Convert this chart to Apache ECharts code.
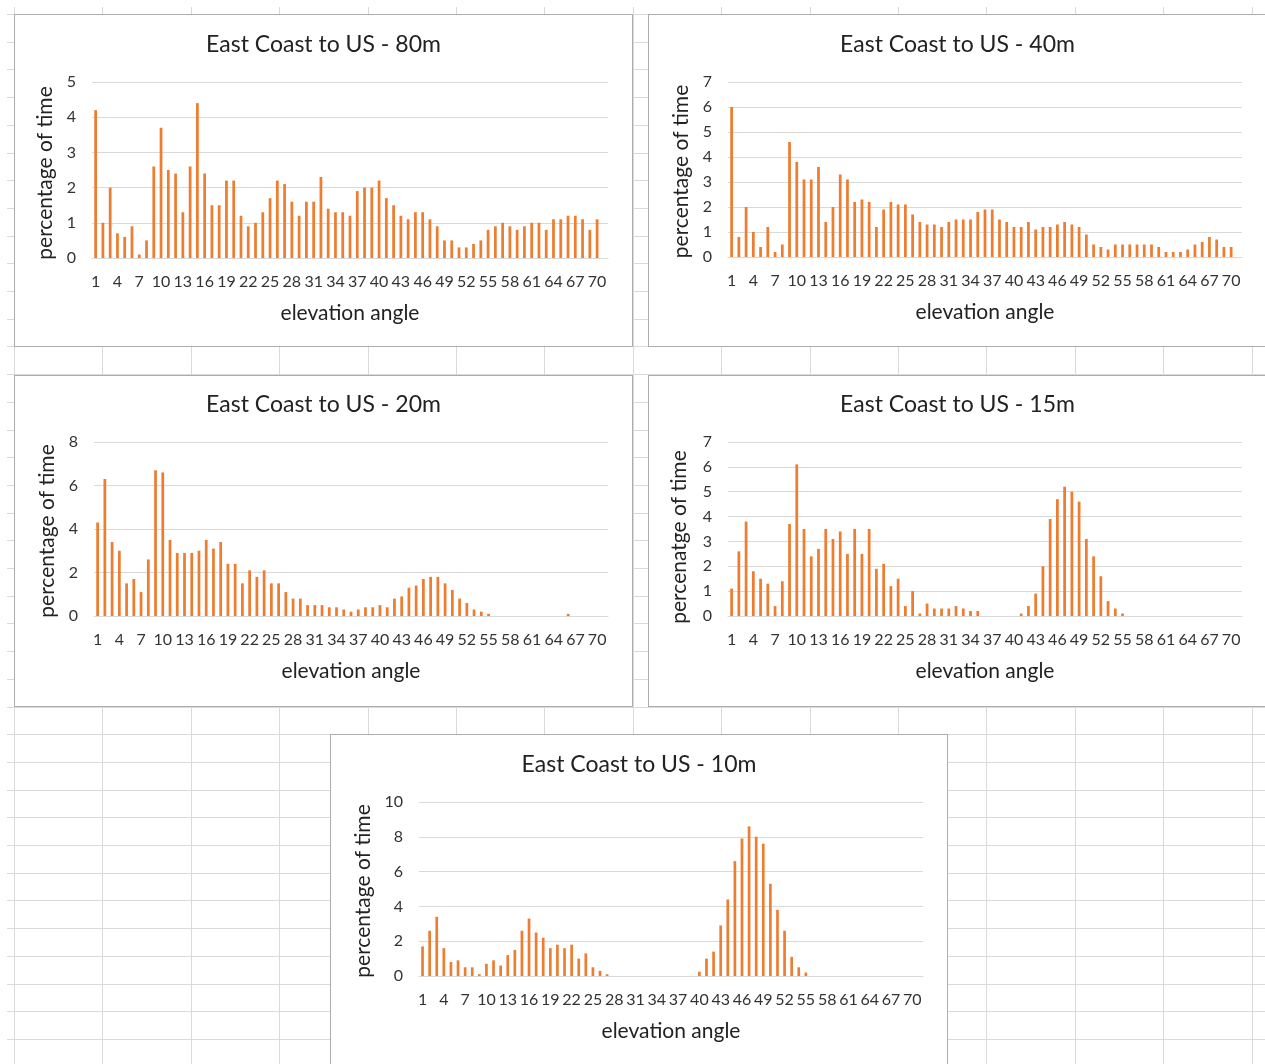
<!DOCTYPE html>
<html>
<head>
<meta charset="utf-8">
<script src="https://cdn.jsdelivr.net/npm/echarts@6/dist/echarts.min.js"></script>
<style>
  html, body { margin: 0; padding: 0; background: #fff; }
  body { width: 1265px; height: 1064px; position: relative; overflow: hidden; }
  #sheet { position: absolute; left: 0; top: 0; }
  .box { position: absolute; background: #fff; box-shadow: inset 0 0 0 1px #adadad; }
</style>
</head>
<body>
<svg id="sheet" width="1265" height="1064"></svg>
<div class="box" id="c80" style="left:14px;top:14px;width:619px;height:333px"></div>
<div class="box" id="c40" style="left:648px;top:14px;width:619px;height:333px"></div>
<div class="box" id="c20" style="left:14px;top:375px;width:619px;height:332px"></div>
<div class="box" id="c15" style="left:648px;top:375px;width:619px;height:332px"></div>
<div class="box" id="c10" style="left:330px;top:734px;width:618px;height:340px"></div>
<script>
// Elevation angle categories (degrees)
const angles = ['1','2','3','4','5','6','7','8','9','10','11','12','13','14','15','16','17','18','19','20',
  '21','22','23','24','25','26','27','28','29','30','31','32','33','34','35','36','37','38','39','40',
  '41','42','43','44','45','46','47','48','49','50','51','52','53','54','55','56','57','58','59','60',
  '61','62','63','64','65','66','67','68','69','70','71'];

// Percentage of time at each elevation angle, per antenna height
const height80 = [4.2,1.0,2.0,0.7,0.6,0.9,0.1,0.5,2.6,3.7, 2.5,2.4,1.3,2.6,4.4,2.4,1.5,1.5,2.2,2.2,
  1.2,0.9,1.0,1.3,1.7,2.2,2.1,1.6,1.2,1.6, 1.6,2.3,1.4,1.3,1.3,1.2,1.9,2.0,2.0,2.2,
  1.7,1.5,1.2,1.1,1.3,1.3,1.1,0.9,0.5,0.5, 0.3,0.3,0.4,0.5,0.8,0.9,1.0,0.9,0.8,0.9,
  1.0,1.0,0.8,1.1,1.1,1.2,1.2,1.1,0.8,1.1, 0];

const height40 = [6.0,0.8,2.0,1.0,0.4,1.2,0.2,0.5,4.6,3.8, 3.1,3.1,3.6,1.4,2.0,3.3,3.1,2.2,2.3,2.2,
  1.2,1.9,2.2,2.1,2.1,1.7,1.4,1.3,1.3,1.2, 1.4,1.5,1.5,1.5,1.8,1.9,1.9,1.5,1.4,1.2,
  1.2,1.4,1.1,1.2,1.2,1.3,1.4,1.3,1.2,0.9, 0.5,0.4,0.3,0.5,0.5,0.5,0.5,0.5,0.5,0.4,
  0.2,0.2,0.2,0.3,0.5,0.6,0.8,0.7,0.4,0.4, 0];

const height20 = [4.3,6.3,3.4,3.0,1.5,1.7,1.1,2.6,6.7,6.6, 3.5,2.9,2.9,2.9,3.0,3.5,3.1,3.4,2.4,2.4,
  1.5,2.1,1.8,2.1,1.5,1.5,1.1,0.8,0.8,0.5, 0.5,0.5,0.4,0.4,0.3,0.2,0.3,0.4,0.4,0.5,
  0.4,0.8,0.9,1.3,1.4,1.7,1.8,1.8,1.5,1.2, 0.8,0.6,0.3,0.2,0.1,0,0,0,0,0,
  0,0,0,0,0,0.1,0,0,0,0, 0];

const height15 = [1.1,2.6,3.8,1.8,1.5,1.3,0.4,1.4,3.7,6.1, 3.5,2.4,2.7,3.5,3.1,3.4,2.5,3.5,2.5,3.5,
  1.9,2.1,1.2,1.5,0.4,1.0,0.1,0.5,0.3,0.3, 0.3,0.4,0.3,0.2,0.2,0,0,0,0,0,
  0.1,0.4,0.9,2.0,3.9,4.7,5.2,5.0,4.6,3.1, 2.4,1.6,0.6,0.3,0.1,0,0,0,0,0,
  0,0,0,0,0,0,0,0,0,0, 0];

const height10 = [1.7,2.6,3.4,1.6,0.8,0.9,0.5,0.5,0.1,0.7, 0.9,0.6,1.2,1.5,2.6,3.3,2.5,2.2,1.6,1.8,
  1.6,1.8,1.0,1.3,0.5,0.3,0.1,0,0,0, 0,0,0,0,0,0,0,0,0,0.25,
  1.0,1.4,2.9,4.4,6.6,7.9,8.6,8.0,7.6,5.3, 3.8,2.6,1.1,0.5,0.2,0,0,0,0,0,
  0,0,0,0,0,0,0,0,0,0, 0];

// Chart titles and axis names
const titles = ['East Coast to US - 80m','East Coast to US - 40m','East Coast to US - 20m',
  'East Coast to US - 15m','East Coast to US - 10m'];
const xName = 'elevation angle';
const yNames = ['percentage of time','percentage of time','percentage of time',
  'percenatge of time','percentage of time'];
// Value axis ranges: [max, step]
const yRanges = [[5,1],[7,1],[8,2],[7,1],[10,2]];

// ---- spreadsheet cell grid behind the charts ----
(function drawSheet() {
  const svg = document.getElementById('sheet');
  let html = '';
  for (let k = 0; k <= 14; k++) {
    const x = Math.round(14 + 88.4 * k) + 0.5;
    html += '<line x1="' + x + '" y1="7" x2="' + x + '" y2="1064" stroke="#dadada" stroke-width="1"/>';
  }
  for (let k = 0; k <= 38; k++) {
    const y = Math.round(14 + 27.7 * k) + 0.5;
    html += '<line x1="7" y1="' + y + '" x2="1265" y2="' + y + '" stroke="#dadada" stroke-width="1"/>';
  }
  svg.innerHTML = html;
})();

// ---- chart layout (box-relative pixel geometry) ----
const layouts = [
  { id: 'c80', grid: { left: 78, top: 68, width: 516, height: 176 }, titleTop: 18, yGap: 34, yShift: 6 },
  { id: 'c40', grid: { left: 80, top: 68, width: 514, height: 175 }, titleTop: 18, yGap: 35, yShift: 4 },
  { id: 'c20', grid: { left: 80, top: 67, width: 514, height: 174 }, titleTop: 17, yGap: 36, yShift: 4 },
  { id: 'c15', grid: { left: 80, top: 67, width: 514, height: 174 }, titleTop: 17, yGap: 38, yShift: 16 },
  { id: 'c10', grid: { left: 89, top: 68, width: 504, height: 174 }, titleTop: 18, yGap: 42, yShift: 4 }
];
const seriesList = [height80, height40, height20, height15, height10];

const FONT = 'Lato, "Open Sans", sans-serif';
const labelColor = '#333333';
const textColor = '#222222';
const lineColor = '#d9d9d9';

layouts.forEach(function (lay, i) {
  const chart = echarts.init(document.getElementById(lay.id), null, { renderer: 'canvas' });
  chart.setOption({
    animation: false,
    title: {
      text: titles[i], left: 'center', top: lay.titleTop + 1, padding: 0,
      textStyle: { fontFamily: FONT, fontSize: 23, fontWeight: 'normal', color: textColor }
    },
    grid: lay.grid,
    xAxis: {
      type: 'category',
      data: angles,
      name: xName, nameLocation: 'middle', nameGap: 45,
      nameTextStyle: { fontFamily: FONT, fontSize: 21, color: textColor },
      axisTick: { show: false },
      axisLine: { lineStyle: { color: lineColor, width: 1 } },
      axisLabel: { interval: 2, margin: 16, fontFamily: FONT, fontSize: 16, color: labelColor }
    },
    yAxis: {
      type: 'value', min: 0, max: yRanges[i][0], interval: yRanges[i][1],
      name: yNames[i], nameLocation: 'middle', nameGap: lay.yGap,
      nameTextStyle: { fontFamily: FONT, fontSize: 21, color: textColor, padding: [0, lay.yShift, 0, 0] },
      axisLine: { show: false }, axisTick: { show: false },
      splitLine: { lineStyle: { color: lineColor, width: 1 } },
      axisLabel: { margin: 16, fontFamily: FONT, fontSize: 16, color: labelColor }
    },
    series: [{
      type: 'bar', data: seriesList[i], barWidth: '38%',
      itemStyle: { color: '#ED7D31' }
    }]
  });
});
</script>
</body>
</html>
